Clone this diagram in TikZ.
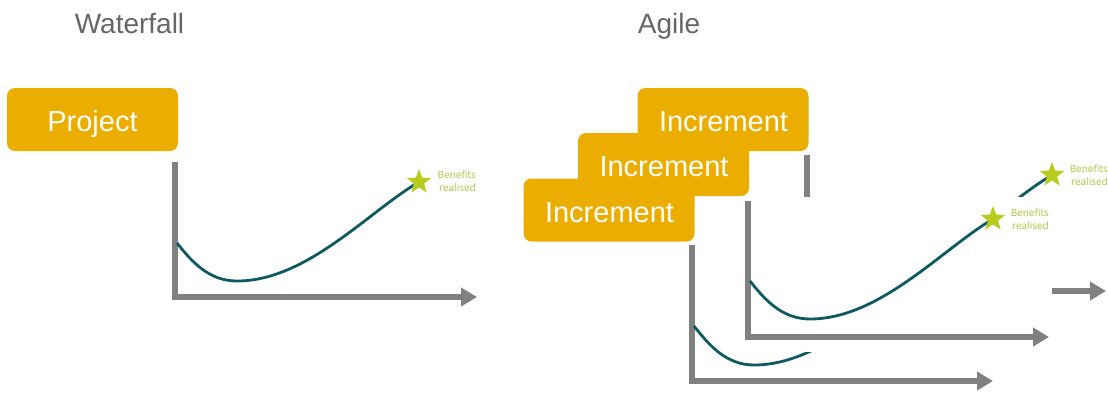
\documentclass[tikz,border=0pt]{standalone}
\usepackage{fontspec}
\setmainfont{Liberation Sans}
\newfontfamily\benefitfont{Open Sans}
\usetikzlibrary{arrows.meta,shapes.geometric}
\definecolor{boxorange}{HTML}{EBAE00}
\definecolor{axisgray}{HTML}{808080}
\definecolor{curveteal}{HTML}{0F5A62}
\definecolor{stargreen}{HTML}{B8CC1E}
\definecolor{textgreen}{HTML}{A9C63C}
\definecolor{titlegray}{HTML}{666666}
\begin{document}
\begin{tikzpicture}[x=1pt,y=-1pt,
  title/.style={font=\fontsize{28}{30}\selectfont, text=titlegray, anchor=base, inner sep=0pt},
  stagebox/.style={rectangle, rounded corners=8pt, fill=boxorange, text=white,
    minimum width=171pt, minimum height=63pt, font=\fontsize{29}{31}\selectfont,
    text height=20.8pt, text depth=0pt, inner sep=0pt},
  stagetext/.style={text=white, font=\fontsize{29}{31}\selectfont, anchor=base, inner sep=0pt},
  axisline/.style={draw=axisgray, line width=6pt, -{Triangle[length=16pt,width=18pt]}},
  benefitcurve/.style={draw=curveteal, line width=2.8pt},
  benefitstar/.style={star, star points=5, star point ratio=2.4, fill=stargreen,
    minimum size=26pt, inner sep=0pt},
  benefitlabel/.style={font=\benefitfont\fontsize{10}{13}\selectfont, text=textgreen,
    align=right, anchor=east, inner sep=0pt},
  hider/.style={fill=white, draw=none},
]
\useasboundingbox (0,0) rectangle (1108,392);

% titles
\node[title] (wftitle) at (129.5,33) {Waterfall};
\node[title] (agtitle) at (669,33) {Agile};

% ---------- Agile chart C (back, mostly hidden) ----------
\begin{scope}[shift={(807,291)}]
  \coordinate (cTop) at (0,-136);
  \coordinate (cOrig) at (0,0);
  \coordinate (cEnd) at (299,0);
  \draw[axisline] (cTop) -- (cOrig) -- (cEnd);
  \draw[benefitcurve] (2,-55) .. controls (17,-36) and (34,-16) .. (62,-16)
        .. controls (132,-16) and (194,-86) .. (245,-116);
  \node[benefitstar] (starC) at (245,-116) {};
  \node[benefitlabel] (labelC) at (301,-116) {Benefits\\realised};
\end{scope}

% ---------- Agile chart A (front-left) ----------
\begin{scope}[shift={(692,381)}]
  \coordinate (aTop) at (0,-136);
  \coordinate (aOrig) at (0,0);
  \coordinate (aEnd) at (301,0);
  \draw[axisline] (aTop) -- (aOrig) -- (aEnd);
  \draw[benefitcurve] (2,-55) .. controls (17,-36) and (34,-16) .. (62,-16)
        .. controls (132,-16) and (194,-86) .. (245,-116);
\end{scope}

% white panel of chart B hides parts of charts A and C
\coordinate (panelNW) at (730,197);
\coordinate (panelSE) at (1052,352);
\fill[hider] (panelNW) rectangle (panelSE);

% ---------- Agile chart B ----------
\begin{scope}[shift={(748,337)}]
  \coordinate (bTop) at (0,-136);
  \coordinate (bOrig) at (0,0);
  \coordinate (bEnd) at (301,0);
  \draw[axisline] (bTop) -- (bOrig) -- (bEnd);
  \draw[benefitcurve] (2,-56) .. controls (17,-37) and (34,-18) .. (62,-18)
        .. controls (132,-18) and (194,-88) .. (245,-118);
  \node[benefitstar] (starB) at (245,-118) {};
  \node[benefitlabel] (labelB) at (301,-117.5) {Benefits\\realised};
\end{scope}

% ---------- Waterfall chart ----------
\begin{scope}[shift={(175,297)}]
  \coordinate (wTop) at (0,-135);
  \coordinate (wOrig) at (0,0);
  \coordinate (wEnd) at (302,0);
  \draw[axisline] (wTop) -- (wOrig) -- (wEnd);
  \draw[benefitcurve] (2,-54) .. controls (17,-35) and (34,-16) .. (62,-16)
        .. controls (132,-16) and (194,-86) .. (244,-115);
  \node[benefitstar] (starW) at (244,-115) {};
  \node[benefitlabel] (labelW) at (301,-115.5) {Benefits\\realised};
\end{scope}

% ---------- boxes ----------
\node[stagebox] (project) at (92.5,119.5) {};
\node[stagetext] (projecttext) at (92.5,131) {Project};
\node[stagebox] (inc3) at (723,119.5) {};
\node[stagetext] (inc3text) at (723.5,131) {Increment};
\node[stagebox] (inc2) at (663.5,164.5) {};
\node[stagetext] (inc2text) at (664,176) {Increment};
\node[stagebox] (inc1) at (609,210) {};
\node[stagetext] (inc1text) at (609.5,222) {Increment};
\end{tikzpicture}
\end{document}
